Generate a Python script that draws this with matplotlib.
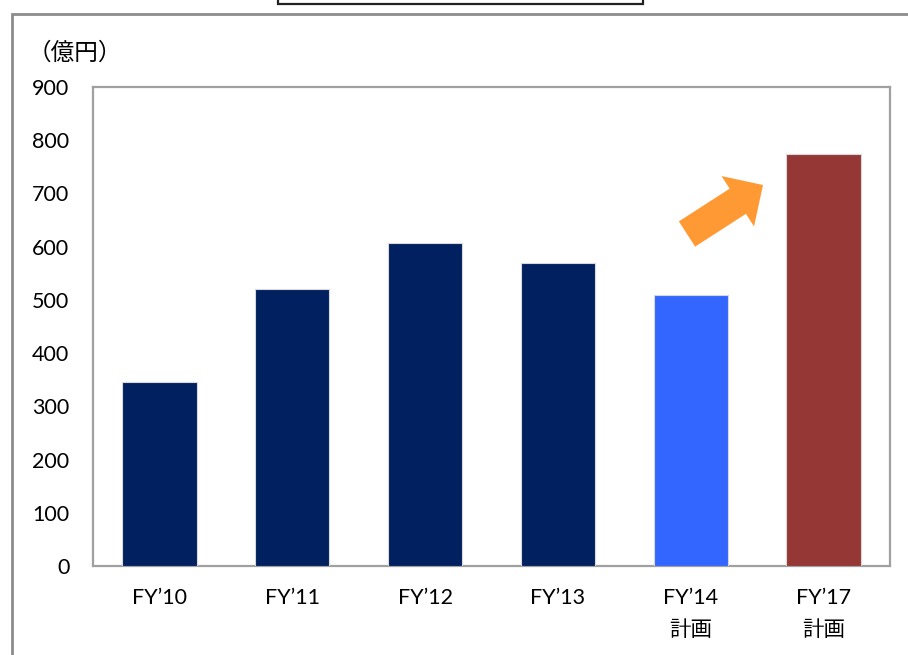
import numpy as np
import matplotlib
matplotlib.use("Agg")
import matplotlib.pyplot as plt
from matplotlib.patches import Polygon, Rectangle

plt.rcParams['font.family'] = ['Lato', 'Noto Sans CJK JP', 'DejaVu Sans']

# data
categories = ['FY\u201910', 'FY\u201911', 'FY\u201912', 'FY\u201913', 'FY\u201914\n計画', 'FY\u201917\n計画']
values = [345, 520, 607, 570, 510, 775]
bar_colors = ['#002060', '#002060', '#002060', '#002060', '#3366FF', '#953735']
yticks = [0, 100, 200, 300, 400, 500, 600, 700, 800, 900]
unit_label = '（億円）'

W, H = 908, 655
fig = plt.figure(figsize=(W / 100, H / 100), dpi=100)
ax = fig.add_axes([93 / W, 1 - 566 / H, (890 - 93) / W, (566 - 87) / H])

x = np.arange(len(categories))
ax.bar(x, values, width=0.56, color=bar_colors, edgecolor='#d8d8d8', linewidth=0.8, zorder=3)

ax.set_xlim(-0.5, len(categories) - 0.5)
ax.set_ylim(0, 900)
ax.set_yticks(yticks)
ax.set_xticks(x)
ax.set_xticklabels(categories, fontsize=15.5, linespacing=1.75, va='top')
ax.tick_params(axis='y', length=0, pad=17, labelsize=15.5)
ax.tick_params(axis='x', length=0, pad=16)
for s in ax.spines.values():
    s.set_color('#a0a0a0')
    s.set_linewidth(1.6)

fig.text(28 / W, 1 - 53 / H, unit_label, fontsize=17, va='center', ha='left')


def px(xp, yp):
    return (xp / W, 1 - yp / H)


# outer frame and top box
fig.patches.append(Rectangle(px(12, 700), (W + 20 - 12) / W, (700 - 14) / H,
                             transform=fig.transFigure, fill=False,
                             edgecolor='#8c8c8c', linewidth=2))
fig.patches.append(Rectangle(px(278, 4), (643 - 278) / W, 20 / H,
                             transform=fig.transFigure, facecolor='white',
                             edgecolor='#222222', linewidth=1.6))

# orange arrow
tail = np.array([687.0, 234.0])
tip = np.array([763.0, 185.0])
d = tip - tail
L = np.hypot(*d)
u = d / L
n = np.array([-u[1], u[0]])
sw, hw, hl = 15.0, 30.0, 30.0
base = tip - u * hl
pts = [tail + n * sw, base + n * sw, base + n * hw, tip,
       base - n * hw, base - n * sw, tail - n * sw]
fig.patches.append(Polygon([px(*p) for p in pts], closed=True,
                           transform=fig.transFigure, facecolor='#FF9933',
                           edgecolor='none'))

fig.savefig('out.png', dpi=100)
